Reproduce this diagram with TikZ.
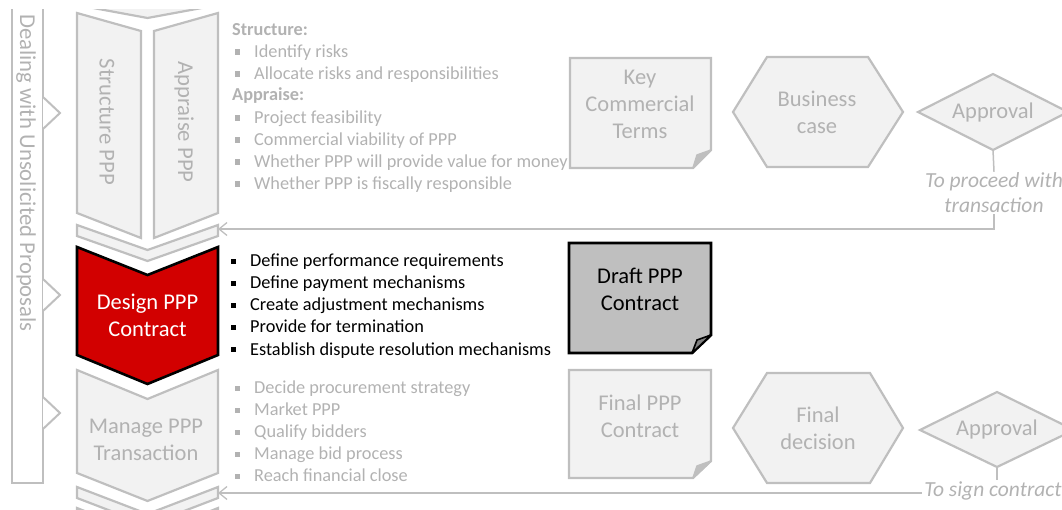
\documentclass[tikz,border=0pt]{standalone}
\usepackage{fontspec}
\setmainfont{Carlito}
\usetikzlibrary{arrows.meta,shapes.geometric}
\definecolor{gline}{RGB}{191,191,191}
\definecolor{lfill}{RGB}{242,242,242}
\definecolor{gtext}{RGB}{178,178,178}
\definecolor{pppred}{RGB}{210,0,0}
\definecolor{dfill}{RGB}{191,191,191}
\definecolor{dfold}{RGB}{128,128,128}
\newcommand{\gbul}{\makebox[22pt][l]{\hspace*{3pt}\raisebox{2.5pt}{\rule{5.2pt}{5.2pt}}}}
\newcommand{\bbul}{\makebox[19pt][l]{\raisebox{2.5pt}{\rule{5.2pt}{5.2pt}}}}
\begin{document}
\begin{tikzpicture}[x=1pt,y=-1pt,
  gshape/.style={draw=gline,line width=2.2pt,fill=lfill,line join=miter},
  gconn/.style={draw=gline,line width=1.5pt},
  bigtxt/.style={font=\fontsize{22.5}{27}\selectfont,align=center,inner sep=0pt},
  rottxt/.style={font=\fontsize{22.7}{26}\selectfont,rotate=-90,inner sep=0pt,text=gtext},
  listtxt/.style={font=\fontsize{18.3}{22}\selectfont,anchor=base west,inner sep=0pt},
  ittxt/.style={font=\fontsize{21.5}{25}\selectfont\itshape,align=center,text=gtext,inner sep=1pt},
  barb/.style={-{Straight Barb[length=8pt,width=13pt,line width=1.3pt]}}
]
\useasboundingbox (0,0) rectangle (1062,510);

\begin{scope}
\clip (0,10) rectangle (1062,510);
% left bar
\draw[draw=gline,line width=2.2pt,fill=white] (12,0) -- (12,483) -- (43,483) -- (43,0);
\foreach \ty in {113,295,413}{
  \draw[draw=gline,line width=2pt,fill=white,line join=miter] (43,\ty-16) -- (60,\ty) -- (43,\ty+16);
}
% chevron column
\draw[gshape] (77,-7) -- (147.5,6) -- (218,-7) -- (218,5) -- (147.5,18) -- (77,5) -- cycle;
\draw[gshape] (77,13) -- (141,31) -- (141,238) -- (77,213) -- cycle;
\draw[gshape] (154,31) -- (218,13) -- (218,213) -- (154,238) -- cycle;
\draw[gshape] (77,225) -- (147.5,250) -- (218,225) -- (218,236) -- (147.5,261) -- (77,236) -- cycle;
\draw[draw=black,line width=2.6pt,fill=pppred,line join=miter] (77,247) -- (147.5,275) -- (218,247) -- (218,355) -- (147.5,384) -- (77,355) -- cycle;
\draw[gshape] (77,370) -- (147.5,399) -- (218,370) -- (218,473) -- (147.5,501) -- (77,473) -- cycle;
\draw[gshape] (77,487) -- (147.5,514) -- (218,487) -- (218,498) -- (147.5,525) -- (77,498) -- cycle;
\draw[gshape] (77,508) -- (147.5,536) -- (218,508) -- (218,560) -- (77,560) -- cycle;
% documents
\draw[gshape] (570,58) -- (711,58) -- (711,150) -- (693,168) -- (570,168) -- cycle;
\draw[draw=gline,line width=1.5pt,fill=dfill,line join=round] (711,150) -- (697,155) -- (693,168) -- cycle;
\draw[draw=black,line width=2.8pt,fill=dfill,line join=miter] (569,243) -- (711,243) -- (711,335) -- (692,353) -- (569,353) -- cycle;
\draw[draw=black,line width=1.6pt,fill=dfold,line join=round] (711,335) -- (697,340) -- (692,353) -- cycle;
\draw[gshape] (569,370) -- (711,370) -- (711,461) -- (693,478) -- (569,478) -- cycle;
\draw[draw=gline,line width=1.5pt,fill=dfill,line join=round] (711,461) -- (697,466) -- (693,478) -- cycle;
% hexagons
\draw[gshape] (733,112) -- (767,57) -- (868,57) -- (903,112) -- (868,167) -- (767,167) -- cycle;
\draw[gshape] (733,428) -- (767,373) -- (870,373) -- (903,428) -- (870,483) -- (767,483) -- cycle;
% diamonds
\draw[gshape] (918,112) -- (993,74) -- (1068,112) -- (993,150) -- cycle;
\draw[gshape] (920,430) -- (997,392) -- (1074,430) -- (997,467) -- cycle;
\end{scope}

% texts in shapes
\node[rottxt] (deal) at (26,173) {Dealing with Unsolicited Proposals};
\node[rottxt] (struct) at (107,122) {Structure PPP};
\node[rottxt] (appr) at (184,122) {Appraise PPP};
\node[bigtxt,text=white] (design) at (147.5,315) {Design PPP\\Contract};
\node[bigtxt,text=gtext] (manage) at (146,440) {Manage PPP\\Transaction};
\node[bigtxt,text=gtext] (kct) at (640,104) {Key\\Commercial\\Terms};
\node[bigtxt,text=black] (draft) at (640,289) {Draft PPP\\Contract};
\node[bigtxt,text=gtext] (final) at (640,416) {Final PPP\\Contract};
\node[bigtxt,text=gtext] (bcase) at (817,112) {Business\\case};
\node[bigtxt,text=gtext] (fdec) at (818,428) {Final\\decision};
\node[bigtxt,text=gtext] (ap1) at (993,113) {Approval};
\node[bigtxt,text=gtext] (ap2) at (997,429) {Approval};

% top list
\begin{scope}[every node/.style={listtxt,text=gtext}]
\node (l1) at (232,35.5) {\textbf{Structure:}};
\node (l2) at (232,57.2) {\gbul Identify risks};
\node (l3) at (232,79.2) {\gbul Allocate risks and responsibilities};
\node (l4) at (232,101) {\textbf{Appraise:}};
\node (l5) at (232,123.2) {\gbul Project feasibility};
\node (l6) at (232,145.2) {\gbul Commercial viability of PPP};
\node (l7) at (232,167.2) {\gbul Whether PPP will provide value for money};
\node (l8) at (232,189.2) {\gbul Whether PPP is fiscally responsible};
\end{scope}
% middle list
\begin{scope}[every node/.style={listtxt,text=black}]
\node (m1) at (231,267) {\bbul Define performance requirements};
\node (m2) at (231,289) {\bbul Define payment mechanisms};
\node (m3) at (231,311) {\bbul Create adjustment mechanisms};
\node (m4) at (231,333) {\bbul Provide for termination};
\node (m5) at (231,355) {\bbul Establish dispute resolution mechanisms};
\end{scope}
% bottom list
\begin{scope}[every node/.style={listtxt,text=gtext}]
\node (b1) at (232,393.2) {\gbul Decide procurement strategy};
\node (b2) at (232,415.2) {\gbul Market PPP};
\node (b3) at (232,437.2) {\gbul Qualify bidders};
\node (b4) at (232,459.2) {\gbul Manage bid process};
\node (b5) at (232,481.2) {\gbul Reach financial close};
\end{scope}

% connectors
\coordinate (a1b) at (993,150);
\coordinate (a2b) at (997,467);
\coordinate (band2e) at (218,229);
\coordinate (band3e) at (218,493);
\node[ittxt] (proc) at (994,193) {To proceed with\\transaction};
\node[ittxt,inner sep=2pt] (sign) at (993,491) {To sign contract};
\draw[gconn] (a1b) -- (proc.north);
\draw[gconn,barb] (proc.south) |- (band2e);
\draw[gconn] (a2b) -- (a2b |- sign.north);
\draw[gconn,barb] (sign.west |- band3e) -- (band3e);
\end{tikzpicture}
\end{document}
